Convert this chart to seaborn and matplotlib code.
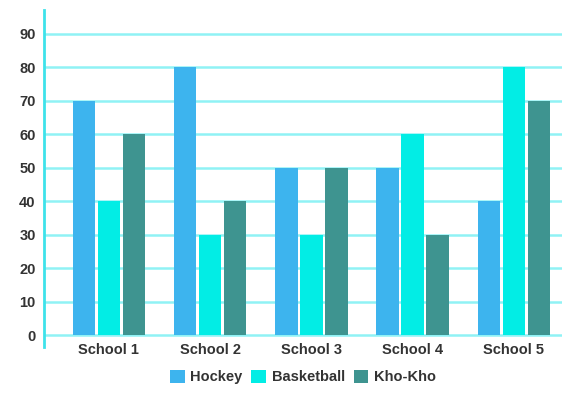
import pandas as pd
import seaborn as sns
import matplotlib.pyplot as plt

schools = ['School 1', 'School 2', 'School 3', 'School 4', 'School 5']
hockey = [70, 80, 50, 50, 40]
basketball = [40, 30, 30, 60, 80]
khokho = [60, 40, 50, 30, 70]

df = pd.DataFrame({'School': schools, 'Hockey': hockey,
                   'Basketball': basketball, 'Kho-Kho': khokho})
long = df.melt(id_vars='School', var_name='Sport', value_name='Score')

sns.set_style('white')
plt.rcParams['font.family'] = ['Liberation Sans', 'DejaVu Sans']

fig = plt.figure(figsize=(5.8, 3.94), dpi=100)
ax = fig.add_axes([0.076, 0.119, 0.893, 0.856])

pal = {'Hockey': '#3db4ee', 'Basketball': '#02ede5', 'Kho-Kho': '#3e9490'}
sns.barplot(data=long, x='School', y='Score', hue='Sport', palette=pal,
            width=0.74, gap=0.1, saturation=1, linewidth=0, ax=ax, zorder=3)

ax.set_ylim(-3.6, 97.2)
ax.set_xlim(-0.64, 4.475)
ax.set_yticks(range(0, 100, 10))
ax.yaxis.grid(True, color='#90f2f5', linewidth=1.8)
ax.set_axisbelow(True)
for s in ['top', 'right', 'bottom']:
    ax.spines[s].set_visible(False)
ax.spines['left'].set_color('#3ee2ea')
ax.spines['left'].set_linewidth(2)
ax.tick_params(length=0, colors='#333333', labelsize=10.5)
ax.tick_params(axis='y', pad=6)
ax.tick_params(axis='x', pad=-3)
for t in ax.get_xticklabels() + ax.get_yticklabels():
    t.set_fontweight('bold')
ax.set_xlabel('')
ax.set_ylabel('')

ax.legend(loc='center', bbox_to_anchor=(0.5, -0.088), ncol=3, frameon=False,
          prop={'weight': 'bold', 'size': 10.5}, handlelength=1.0, handleheight=1.0,
          handletextpad=0.4, columnspacing=0.6, labelcolor='#333333')

plt.savefig('out.png', dpi=100)
